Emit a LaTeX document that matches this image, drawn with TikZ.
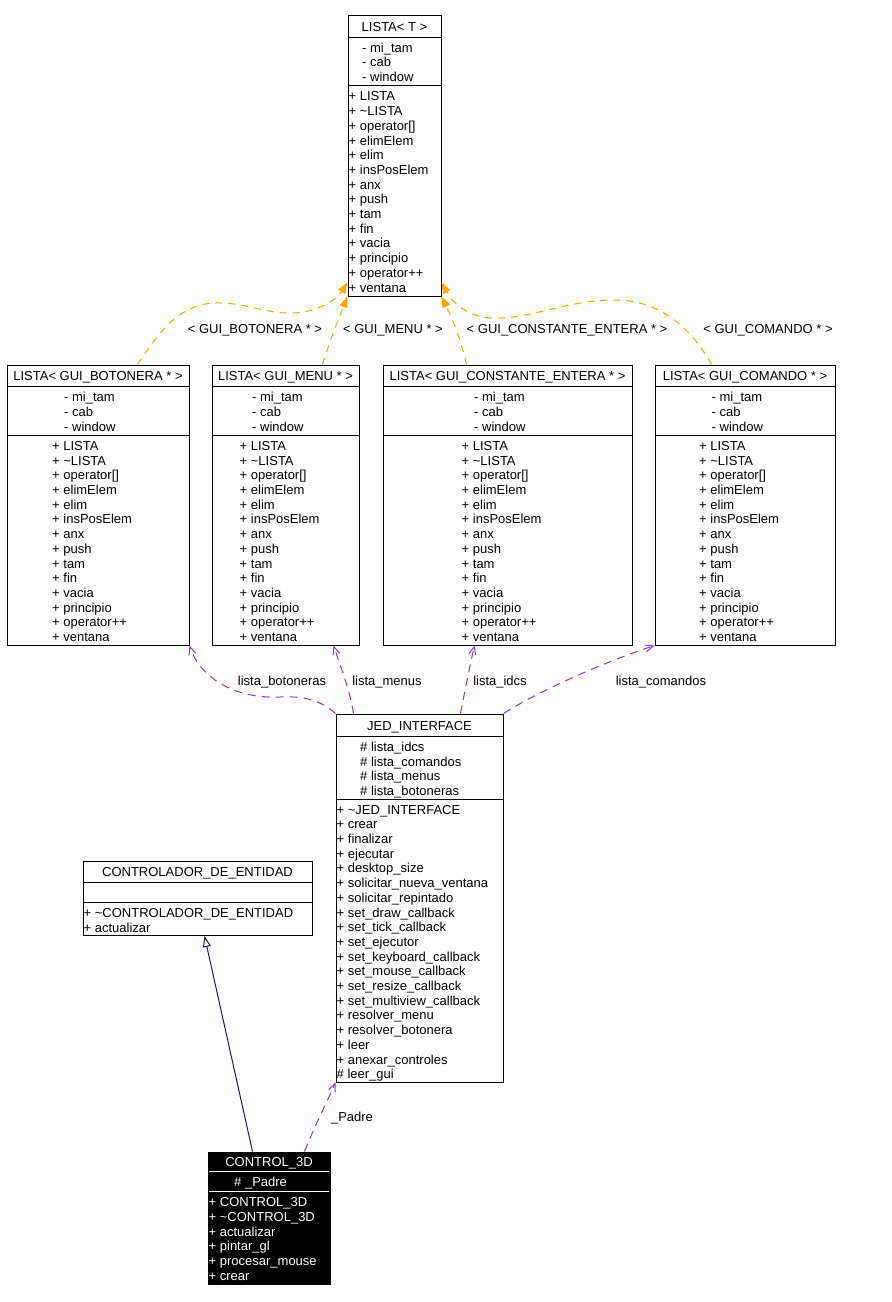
\documentclass[tikz,border=0pt]{standalone}
\usepackage{fontspec}
\setmainfont{Liberation Sans}
\usetikzlibrary{arrows.meta,calc,fit}
\definecolor{inhblue}{HTML}{191970}
\definecolor{tplorange}{HTML}{FFA500}
\definecolor{assocpurple}{HTML}{9A32CD}
\newcommand\umlfont{\fontsize{13}{14.7}\selectfont}
\newcommand\us{\rule[-3.2pt]{0pt}{14.7pt}}
\newcommand\listaAttrs{\us- mi\_tam\\\us- cab\\\us- window}
\newcommand\listaMethods{\us+ LISTA\\\us+ \textasciitilde LISTA\\\us+ operator[]\\\us+ elimElem\\\us+ elim\\\us+ insPosElem\\\us+ anx\\\us+ push\\\us+ tam\\\us+ fin\\\us+ vacia\\\us+ principio\\\us+ operator++\\\us+ ventana}
\tikzset{
  umlbox/.style={draw=black, line width=1pt, inner sep=0pt, fill=white},
  sepline/.style={draw=black, line width=1pt},
  umltxt/.style={inner sep=0pt, font=\umlfont, align=left, anchor=west, yshift=-1.8pt},
  umltitle/.style={inner sep=0pt, font=\umlfont, yshift=-1.2pt},
  lbl/.style={inner sep=0pt, font=\umlfont},
  tplarrow/.style={draw=tplorange, line width=1pt, dash pattern=on 7pt off 6pt,
    -{Triangle[length=11pt,width=8pt]}, fill=none},
  assoc/.style={draw=assocpurple, line width=1pt, dash pattern=on 8pt off 6pt,
    -{Straight Barb[length=8pt,width=7pt]}},
  inherit/.style={draw=inhblue, line width=1pt, -{Triangle[open,length=11pt,width=8pt,fill=white]}},
}
\begin{document}
\begin{tikzpicture}[x=1pt,y=-1pt]
\useasboundingbox (0,0) rectangle (892,1302);
\fill[white] (0,0) rectangle (892,1302);

% ---------- LISTA< T > ----------
\node[umlbox, fit={(348,15)(441,296)}] (lt) {};
\draw[sepline] (348,37) -- (441,37);
\draw[sepline] (348,85) -- (441,85);
\node[umltitle] (lt-t) at (394.5,26) {\us LISTA< T >};
\node[umltxt] (lt-a) at (362,61) {\listaAttrs};
\node[umltxt] (lt-m) at (348.5,190.5) {\listaMethods};

% ---------- LISTA< GUI_BOTONERA * > ----------
\node[umlbox, fit={(7,365)(189,645)}] (bot) {};
\draw[sepline] (7,386) -- (189,386);
\draw[sepline] (7,435) -- (189,435);
\node[umltitle] (bot-t) at (98,375.5) {\us LISTA< GUI\_BOTONERA * >};
\node[umltxt] (bot-a) at (64,410.5) {\listaAttrs};
\node[umltxt] (bot-m) at (52,540) {\listaMethods};

% ---------- LISTA< GUI_MENU * > ----------
\node[umlbox, fit={(212,365)(359,645)}] (mn) {};
\draw[sepline] (212,386) -- (359,386);
\draw[sepline] (212,435) -- (359,435);
\node[umltitle] (mn-t) at (285.5,375.5) {\us LISTA< GUI\_MENU * >};
\node[umltxt] (mn-a) at (252,410.5) {\listaAttrs};
\node[umltxt] (mn-m) at (239.5,540) {\listaMethods};

% ---------- LISTA< GUI_CONSTANTE_ENTERA * > ----------
\node[umlbox, fit={(383,365)(632,645)}] (ce) {};
\draw[sepline] (383,386) -- (632,386);
\draw[sepline] (383,435) -- (632,435);
\node[umltitle] (ce-t) at (507.5,375.5) {\us LISTA< GUI\_CONSTANTE\_ENTERA * >};
\node[umltxt] (ce-a) at (474,410.5) {\listaAttrs};
\node[umltxt] (ce-m) at (461.5,540) {\listaMethods};

% ---------- LISTA< GUI_COMANDO * > ----------
\node[umlbox, fit={(655,365)(835,645)}] (cm) {};
\draw[sepline] (655,386) -- (835,386);
\draw[sepline] (655,435) -- (835,435);
\node[umltitle] (cm-t) at (745,375.5) {\us LISTA< GUI\_COMANDO * >};
\node[umltxt] (cm-a) at (711.5,410.5) {\listaAttrs};
\node[umltxt] (cm-m) at (699,540) {\listaMethods};

% ---------- JED_INTERFACE ----------
\node[umlbox, fit={(336,714)(503,1082)}] (jed) {};
\draw[sepline] (336,736) -- (503,736);
\draw[sepline] (336,799) -- (503,799);
\node[umltitle] (jed-t) at (419.5,725) {\us JED\_INTERFACE};
\node[umltxt] (jed-a) at (360,767.5) {\us\# lista\_idcs\\\us\# lista\_comandos\\\us\# lista\_menus\\\us\# lista\_botoneras};
\node[umltxt] (jed-m) at (336.5,940.5) {\us+ \textasciitilde JED\_INTERFACE\\\us+ crear\\\us+ finalizar\\\us+ ejecutar\\\us+ desktop\_size\\\us+ solicitar\_nueva\_ventana\\\us+ solicitar\_repintado\\\us+ set\_draw\_callback\\\us+ set\_tick\_callback\\\us+ set\_ejecutor\\\us+ set\_keyboard\_callback\\\us+ set\_mouse\_callback\\\us+ set\_resize\_callback\\\us+ set\_multiview\_callback\\\us+ resolver\_menu\\\us+ resolver\_botonera\\\us+ leer\\\us+ anexar\_controles\\\us\# leer\_gui};

% ---------- CONTROLADOR_DE_ENTIDAD ----------
\node[umlbox, fit={(83,861)(312,935.5)}] (cde) {};
\draw[sepline] (83,882) -- (312,882);
\draw[sepline] (83,902) -- (312,902);
\node[umltitle] (cde-t) at (197.5,871.5) {\us CONTROLADOR\_DE\_ENTIDAD};
\node[umltxt] (cde-m) at (83.5,918.75) {\us+ \textasciitilde CONTROLADOR\_DE\_ENTIDAD\\\us+ actualizar};

% ---------- CONTROL_3D ----------
\node[umlbox, fill=black, fit={(208,1152)(330,1284)}] (c3) {};
\draw[sepline, draw=white] (209,1171) -- (329,1171);
\draw[sepline, draw=white] (209,1191) -- (329,1191);
\node[umltitle, text=white] (c3-t) at (269,1161.5) {\us CONTROL\_3D};
\node[umltxt, text=white] (c3-a) at (234,1181) {\us\# \_Padre};
\node[umltxt, text=white] (c3-m) at (208.5,1237.5) {\us+ CONTROL\_3D\\\us+ \textasciitilde CONTROL\_3D\\\us+ actualizar\\\us+ pintar\_gl\\\us+ procesar\_mouse\\\us+ crear};

% ---------- template instantiation connectors ----------
\draw[tplarrow] ($(bot.north west)!0.714!(bot.north east)$)
   .. controls (155,340) and (175,304) .. (215,303)
   .. controls (245,302) and (265,314) .. (293,313)
   .. controls (318,312) and (336,300) .. ($(lt.south west)+(0,-14)$);
\draw[tplarrow] ($(mn.north west)+(111,0)$)
   .. controls (330,340) and (340,315) .. (lt.south west);
\draw[tplarrow] ($(ce.north west)+(84,0)$)
   .. controls (460,335) and (449,312) .. (lt.south east);
\draw[tplarrow] ($(cm.north west)+(57,0)$)
   .. controls (695,335) and (665,300) .. (615,300)
   .. controls (565,300) and (530,320) .. (490,318)
   .. controls (465,316) and (451,300) .. ($(lt.south east)+(0,-14)$);
\node[lbl] (l-bot) at (255,330) {< GUI\_BOTONERA * >};
\node[lbl] (l-mn) at (393,330) {< GUI\_MENU * >};
\node[lbl] (l-ce) at (567,330) {< GUI\_CONSTANTE\_ENTERA * >};
\node[lbl] (l-cm) at (768,330) {< GUI\_COMANDO * >};

% ---------- association connectors ----------
\draw[assoc] (jed.north west)
   .. controls (320,700) and (305,696) .. (280,697)
   .. controls (235,699) and (200,678) .. (bot.south east);
\draw[assoc] ($(jed.north west)+(18,0)$)
   .. controls (350,690) and (340,665) .. ($(mn.south east)+(-26,0)$);
\draw[assoc] ($(jed.north west)+(125,0)$)
   .. controls (465,690) and (470,665) .. ($(ce.south west)+(92,0)$);
\draw[assoc] (jed.north east)
   .. controls (540,690) and (610,660) .. (cm.south west);
\draw[assoc] ($(c3.north west)+(97,0)$)
   .. controls (315,1125) and (328,1100) .. (jed.south west);
\node[lbl] (l-lb) at (282,682) {lista\_botoneras};
\node[lbl] (l-lm) at (387,682) {lista\_menus};
\node[lbl] (l-li) at (500,682) {lista\_idcs};
\node[lbl] (l-lc) at (661,682) {lista\_comandos};
\node[lbl] (l-pa) at (352,1118) {\_Padre};

% ---------- inheritance ----------
\draw[inherit] ($(c3.north west)+(45,0)$) -- ($(cde.south west)+(122,0)$);
\end{tikzpicture}
\end{document}
